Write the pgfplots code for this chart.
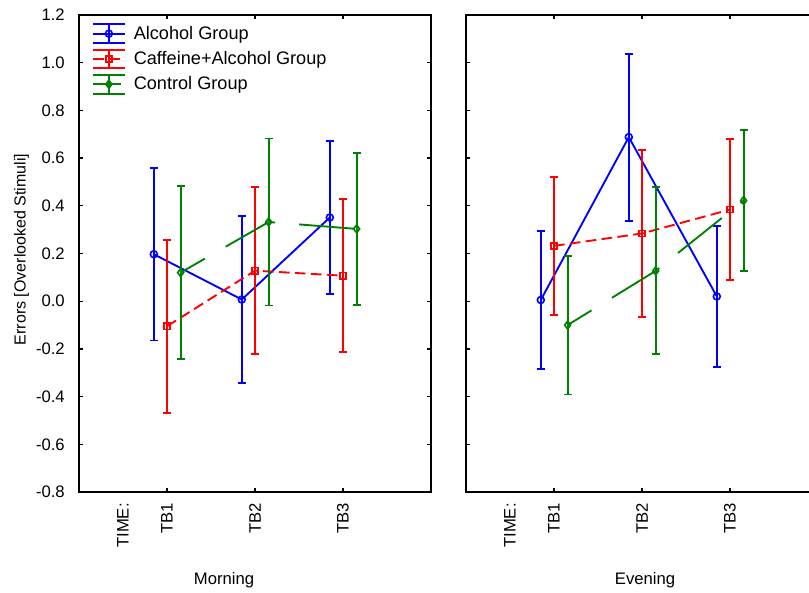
\documentclass[border=0pt]{standalone}
\usepackage{fontspec}
\setmainfont{Liberation Sans}
\usepackage{pgfplots}
\pgfplotsset{compat=1.18}

\definecolor{cAlc}{RGB}{0,0,255}
\definecolor{cCaf}{RGB}{255,0,0}
\definecolor{cCon}{RGB}{0,128,0}

\newcommand{\txt}{\fontsize{12.5}{15}\selectfont}
\newcommand{\legtxt}{\fontsize{13.6}{16}\selectfont}

\pgfplotsset{
  panel/.style={
    scale only axis, width=264pt, height=357.75pt,
    anchor=south west, clip=false,
    xmin=0, xmax=4, ymin=-0.8, ymax=1.2,
    xtick={1,2,3}, xticklabels={TB1,TB2,TB3},
    ytick={-0.8,-0.6,-0.4,-0.2,0,0.2,0.4,0.6,0.8,1.0,1.2},
    tick align=inside, major tick length=3pt,
    axis line style={line width=1.3pt},
    every tick/.style={black, line width=1pt},
    tick label style={font=\txt},
    xticklabel style={rotate=90, anchor=east, inner sep=0pt},
    xticklabel shift=8.25pt,
    yticklabel style={anchor=east, inner sep=0pt},
    yticklabel shift=10.5pt,
  },
  errs/.style={
    error bars/.cd, y dir=both, y explicit,
    error bar style={line width=1.4pt, solid},
    error mark options={rotate=90, mark size=3pt, line width=1.4pt, solid},
  },
  icon/.style={legend image code/.code={
    \draw[solid] (0pt,7pt) -- (24pt,7pt);
    \draw[solid] (0pt,-7pt) -- (24pt,-7pt);
    \draw[solid] (12pt,-7pt) -- (12pt,7pt);
    \draw[mark repeat=2, mark phase=2] plot coordinates {(0pt,0pt) (12pt,0pt) (24pt,0pt)};
  }},
  alc/.style={cAlc, line width=1.4pt, solid, mark=o, mark size=2.6pt,
    mark options={solid, line width=1.2pt}, icon, errs},
  caf/.style={cCaf, line width=1.4pt, dash pattern=on 8pt off 4pt, mark=square, mark size=2.3pt,
    mark options={solid, line width=1.2pt}, icon, errs},
  con/.style={cCon, line width=1.4pt, dash pattern=on 42pt off 18pt, dash phase=21pt, mark=diamond, mark size=3pt,
    mark options={solid, line width=1.2pt}, icon, errs},
}

\begin{document}
\begin{tikzpicture}[font=\txt]
\useasboundingbox (0,0) rectangle (606.75pt,444pt);

% Morning
\begin{axis}[panel, at={(59.25pt,75pt)},
  yticklabels={-0.8,-0.6,-0.4,-0.2,0.0,0.2,0.4,0.6,0.8,1.0,1.2},
  legend style={at={(0.036,0.983)}, anchor=north west, draw=none, fill=none,
    inner sep=0pt, row sep=3.6pt, column sep=5pt, font=\legtxt,
    nodes={inner sep=1pt}},
  legend cell align=left,
]
\addplot[alc] coordinates {
  (0.85,0.197) +- (0,0.362)
  (1.85,0.007) +- (0,0.349)
  (2.85,0.351) +- (0,0.320)
};
\addlegendentry{Alcohol Group}
\addplot[caf] coordinates {
  (1,-0.105) +- (0,0.362)
  (2,0.128) +- (0,0.350)
  (3,0.107) +- (0,0.320)
};
\addlegendentry{Caffeine+Alcohol Group}
\addplot[con] coordinates {
  (1.155,0.120) +- (0,0.362)
  (2.155,0.332) +- (0,0.350)
  (3.155,0.303) +- (0,0.320)
};
\addlegendentry{Control Group}
\node[rotate=90, anchor=east, inner sep=0pt] at ([yshift=-8.25pt]axis cs:0.5,-0.8) {TIME:};
\end{axis}

% Evening
\begin{axis}[panel, at={(349.5pt,75pt)}, yticklabels={}]
\addplot[alc] coordinates {
  (0.85,0.005) +- (0,0.291)
  (1.85,0.688) +- (0,0.350)
  (2.85,0.020) +- (0,0.296)
};
\addplot[caf] coordinates {
  (1,0.232) +- (0,0.290)
  (2,0.284) +- (0,0.350)
  (3,0.384) +- (0,0.295)
};
\addplot[con] coordinates {
  (1.155,-0.100) +- (0,0.291)
  (2.155,0.127) +- (0,0.350)
  (3.155,0.422) +- (0,0.297)
};
\node[rotate=90, anchor=east, inner sep=0pt] at ([yshift=-8.25pt]axis cs:0.5,-0.8) {TIME:};
\end{axis}

\node[rotate=90, font=\fontsize{12}{14}\selectfont] at (16.2pt,256.9pt) {Errors [Overlooked Stimuli]};
\node[anchor=base] at (168pt,6pt) {Morning};
\node[anchor=base] at (483.75pt,6pt) {Evening};
\end{tikzpicture}
\end{document}
